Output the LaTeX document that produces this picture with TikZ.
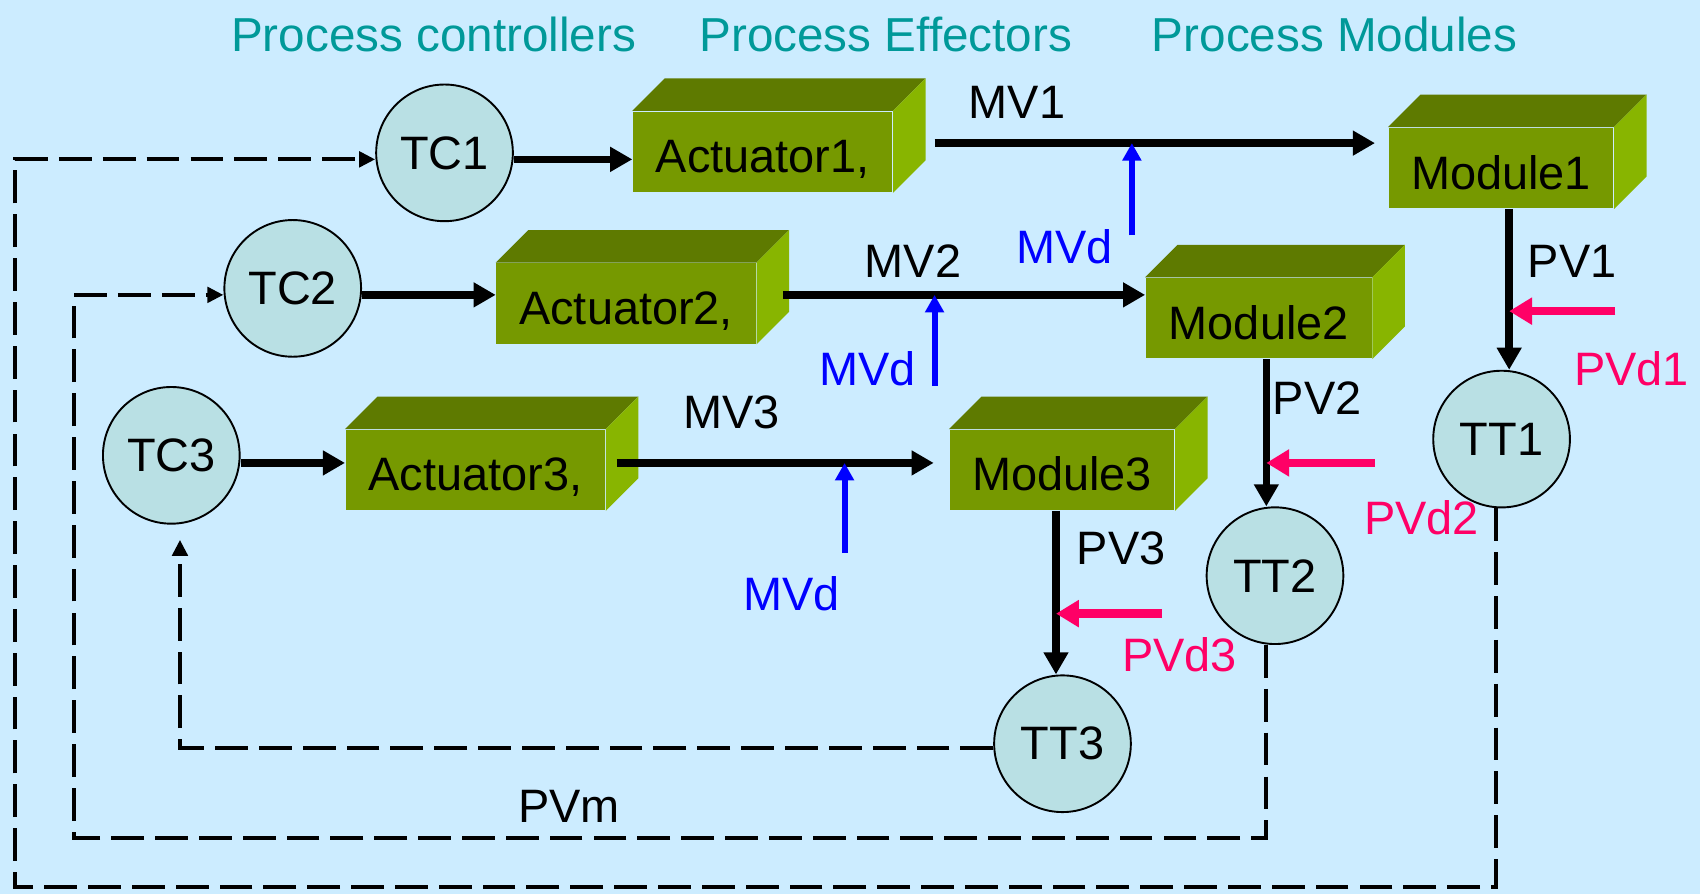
\documentclass[tikz,border=0pt]{standalone}
\usepackage{fontspec}
\setmainfont{Liberation Sans}
\usetikzlibrary{arrows.meta,calc}
\definecolor{bgc}{RGB}{204,236,255}
\definecolor{circfill}{RGB}{185,224,228}
\definecolor{gfrontc}{RGB}{118,153,0}
\definecolor{gtopc}{RGB}{94,122,0}
\definecolor{gsidec}{RGB}{136,181,0}
\definecolor{tealc}{RGB}{0,153,153}
\definecolor{bluec}{RGB}{0,0,255}
\definecolor{pinkc}{RGB}{255,0,102}
\newcommand{\greenblock}[5]{%
  \node[gfront,minimum width=#4cm] (#1) at (#2,#3) {#5};
  \fill[gtop] (#1.north west) -- ++(30,-30) -- ($(#1.north east)+(30,-30)$) -- (#1.north east) -- cycle;
  \fill[gside] (#1.north east) -- ++(30,-30) -- ($(#1.south east)+(30,-30)$) -- (#1.south east) -- cycle;
}
\begin{document}
\begin{tikzpicture}[x=0.01cm,y=-0.01cm,
  every node/.style={font=\fontsize{12.3}{14}\selectfont},
  circ/.style={circle,draw=black,line width=0.5pt,fill=circfill,minimum size=1.26cm,inner sep=0pt},
  gfront/.style={fill=gfrontc,inner sep=0pt,minimum height=0.74cm,text height=13pt,text depth=2pt},
  gtop/.style={fill=gtopc},
  gside/.style={fill=gsidec},
  blk/.style={line width=2pt,-{Triangle[length=5.8pt,width=6.2pt]}},
  bluearr/.style={draw=bluec,line width=1.6pt,-{Triangle[length=4.6pt,width=4.8pt]}},
  pinkarr/.style={draw=pinkc,line width=2.2pt,-{Triangle[length=6pt,width=6.8pt]}},
  fb/.style={line width=1.1pt,dash pattern=on 8.6pt off 2.9pt,-{Triangle[length=4.2pt,width=4pt]}},
  title/.style={text=tealc,font=\fontsize{12.5}{15}\selectfont},
  bl/.style={text=bluec},
  pk/.style={text=pinkc},
]
\fill[bgc] (0,0) rectangle (1568,825);
\useasboundingbox (0,0) rectangle (1568,825);

% titles
\node[title] (t1) at (400,32) {Process controllers};
\node[title] (t2) at (817,32) {Process Effectors};
\node[title] (t3) at (1231,32) {Process Modules};

% boxes
\greenblock{A1}{703.5}{140}{2.39}{Actuator1,}
\greenblock{A2}{577.5}{280}{2.39}{Actuator2,}
\greenblock{A3}{438.5}{433.5}{2.39}{Actuator3,}
\greenblock{M1}{1384.5}{155}{2.07}{Module1}
\greenblock{M2}{1161}{293.5}{2.08}{Module2}
\greenblock{M3}{979.5}{433.5}{2.07}{Module3}

% circles
\node[circ] (TC1) at (410,141) {TC1};
\node[circ] (TC2) at (270,266) {TC2};
\node[circ] (TC3) at (158,420) {TC3};
\node[circ] (TT1) at (1385,405) {TT1};
\node[circ] (TT2) at (1176,531) {TT2};
\node[circ] (TT3) at (980,686) {TT3};

% controller -> actuator
\coordinate (y1) at (0,147);
\coordinate (y2) at (0,272);
\coordinate (y3) at (0,427);
\draw[blk] (TC1.east |- y1) -- (A1.west |- y1);
\draw[blk] (TC2.east |- y2) -- (A2.west |- y2);
\draw[blk] (TC3.east |- y3) -- (A3.west |- y3);

% MV arrows
\coordinate (mv1) at (862,132);
\coordinate (mv2) at (722,272);
\coordinate (mv3) at (569,427);
\draw[blk,shorten >=0.12cm] (mv1) -- (M1.west |- mv1);
\draw[blk] (mv2) -- (M2.west |- mv2);
\draw[blk,shorten >=0.14cm] (mv3) -- (M3.west |- mv3);

% MVd disturbances
\coordinate (d1) at (1044,217);
\coordinate (d2) at (862,356);
\coordinate (d3) at (779,510);
\draw[bluearr] (d1) -- (d1 |- mv1);
\draw[bluearr] (d2) -- (d2 |- mv2);
\draw[bluearr] (d3) -- (d3 |- mv3);

% PV arrows
\coordinate (p1) at (1392,0);
\coordinate (p2) at (1168,0);
\coordinate (p3) at (974,0);
\draw[blk] (M1.south -| p1) -- (TT1.north -| p1);
\draw[blk] (M2.south -| p2) -- (TT2.north -| p2);
\draw[blk] (M3.south -| p3) -- (TT3.north -| p3);

% PVd disturbances
\coordinate (q1) at (1490,287);
\coordinate (q2) at (1268,427);
\coordinate (q3) at (1072,566);
\draw[pinkarr] (q1) -- (q1 -| p1);
\draw[pinkarr] (q2) -- (q2 -| p2);
\draw[pinkarr] (q3) -- (q3 -| p3);

% feedback lines
\coordinate (f3) at (166,690);
\draw[fb,shorten >=0.14cm] (TT3.west |- f3) -- (f3) -- (f3 |- TC3.south);
\coordinate (f2a) at (1168,773);
\coordinate (f2b) at (68,773);
\coordinate (f2c) at (68,272);
\draw[fb] (TT2.south -| f2a) -- (f2a) -- (f2b) -- (f2c) -- (TC2.west |- f2c);
\coordinate (f1a) at (1380,818);
\coordinate (f1b) at (14,818);
\coordinate (f1c) at (14,147);
\draw[fb] (TT1.south -| f1a) -- (f1a) -- (f1b) -- (f1c) -- (TC1.west |- f1c);

% labels
\node (lMV1) at (938,94) {MV1};
\node (lMV2) at (842,241) {MV2};
\node (lMV3) at (675,380) {MV3};
\node[bl] (lMVd1) at (982,228) {MVd};
\node[bl] (lMVd2) at (800,340) {MVd};
\node[bl] (lMVd3) at (730,548) {MVd};
\node (lPV1) at (1450,241) {PV1};
\node (lPV2) at (1215,367) {PV2};
\node (lPV3) at (1034,506) {PV3};
\node[pk] (lPVd1) at (1505,340) {PVd1};
\node[pk] (lPVd2) at (1311,478) {PVd2};
\node[pk] (lPVd3) at (1088,604) {PVd3};
\node (lPVm) at (525,744) {PVm};
\end{tikzpicture}
\end{document}
